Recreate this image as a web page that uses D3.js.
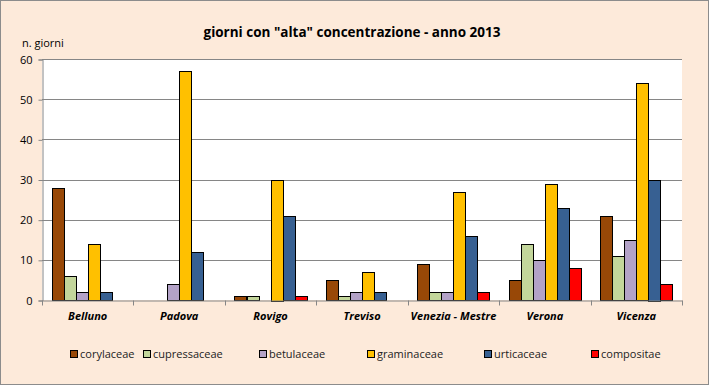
<!DOCTYPE html>
<html>
<head>
<meta charset="utf-8">
<script src="https://cdn.jsdelivr.net/npm/d3@7"></script>
<style>
  body { margin: 0; background: #fff; }
  svg { display: block; font-family: "Open Sans", "Liberation Sans", sans-serif; }
</style>
</head>
<body>
<script>
//Declare data
const cities = ["Belluno", "Padova", "Rovigo", "Treviso", "Venezia - Mestre", "Verona", "Vicenza"];
const families = ["corylaceae", "cupressaceae", "betulaceae", "graminaceae", "urticaceae", "compositae"];
const corylaceae   = [28, 0, 1, 5, 9, 5, 21];
const cupressaceae = [6, 0, 1, 1, 2, 14, 11];
const betulaceae   = [2, 4, 0, 2, 2, 10, 15];
const graminaceae  = [14, 57, 30, 7, 27, 29, 54];
const urticaceae   = [2, 12, 21, 2, 16, 23, 30];
const compositae   = [0, 0, 1, 0, 2, 8, 4];
const yTicks = [0, 10, 20, 30, 40, 50, 60];

const seriesValues = [corylaceae, cupressaceae, betulaceae, graminaceae, urticaceae, compositae];
const colors = ["#984807", "#C3D69B", "#B3A2C7", "#FFC000", "#376092", "#FF0000"];

//Sizes
const width = 709;
const height = 385;
const plot = { left: 42, right: 682, top: 59, bottom: 300 };

const svg = d3.select("body")
    .append("svg")
    .attr("width", width)
    .attr("height", height);

//Background
svg.append("rect")
    .attr("x", 0.5).attr("y", 0.5)
    .attr("width", width - 1).attr("height", height - 1)
    .attr("fill", "#FDEADA")
    .attr("stroke", "#8C8C8C");

svg.append("rect")
    .attr("x", plot.left).attr("y", plot.top)
    .attr("width", plot.right - plot.left).attr("height", plot.bottom - plot.top)
    .attr("fill", "#fff");

//Scales
const xScale = d3.scaleBand()
    .domain(cities)
    .range([plot.left, plot.right]);

const xInner = d3.scaleBand()
    .domain(families)
    .range([0, xScale.bandwidth()])
    .paddingOuter(0.8)
    .paddingInner(0);

const yScale = d3.scaleLinear()
    .domain([0, 60])
    .range([plot.bottom, plot.top]);

//Gridlines
svg.append("g")
    .selectAll("line")
    .data(yTicks.filter(d => d > 0))
    .join("line")
    .attr("x1", plot.left).attr("x2", plot.right)
    .attr("y1", d => Math.round(yScale(d)) + 0.5)
    .attr("y2", d => Math.round(yScale(d)) + 0.5)
    .attr("stroke", "#868686");

//Bars
const table = families.map((f, i) => cities.map((c, j) => ({ family: f, city: c, value: seriesValues[i][j], color: colors[i] })));

svg.append("g")
    .selectAll("g")
    .data(table)
    .join("g")
    .attr("fill", (d, i) => colors[i])
    .selectAll("rect")
    .data(d => d.filter(v => v.value > 0))
    .join("rect")
    .attr("x", d => Math.round(xScale(d.city) + xInner(d.family)) + 0.5)
    .attr("y", d => Math.round(yScale(d.value)) + 0.5)
    .attr("width", Math.round(xInner.bandwidth()))
    .attr("height", d => Math.round(plot.bottom - yScale(d.value)))
    .attr("stroke", "#000")
    .attr("stroke-width", 1);

//Axes
const leftAxis = d3.axisLeft(yScale)
    .tickValues(yTicks)
    .tickSize(4)
    .tickPadding(6);

const yAxisG = svg.append("g")
    .attr("transform", "translate(" + (plot.left + 0.5) + ",0.5)")
    .call(leftAxis);
yAxisG.select(".domain").attr("stroke", "#868686");
yAxisG.selectAll(".tick line").attr("stroke", "#868686");
yAxisG.selectAll("text")
    .attr("font-size", 11)
    .attr("fill", "#000")
    .attr("font-family", "Open Sans, sans-serif");

const bottomAxis = d3.axisBottom(xScale)
    .tickSize(0)
    .tickPadding(12);

const xAxisG = svg.append("g")
    .attr("transform", "translate(0," + (plot.bottom + 0.5) + ")")
    .call(bottomAxis);
xAxisG.select(".domain").attr("stroke", "#868686");
xAxisG.selectAll("text")
    .attr("font-size", 11)
    .attr("font-weight", "bold")
    .attr("font-style", "italic")
    .attr("fill", "#000")
    .attr("font-family", "Open Sans, sans-serif");

//Category boundary ticks
xAxisG.selectAll(".sep")
    .data(cities.concat(["end"]))
    .join("line")
    .attr("class", "sep")
    .attr("x1", (d, i) => Math.round(plot.left + i * xScale.bandwidth()) + 0.5)
    .attr("x2", (d, i) => Math.round(plot.left + i * xScale.bandwidth()) + 0.5)
    .attr("y1", 0).attr("y2", 5)
    .attr("stroke", "#868686");

//Title
svg.append("text")
    .attr("x", 352).attr("y", 37)
    .attr("text-anchor", "middle")
    .attr("font-size", 13.5)
    .attr("font-weight", "bold")
    .text('giorni con "alta" concentrazione - anno 2013');

svg.append("text")
    .attr("x", 22).attr("y", 47)
    .attr("font-size", 11)
    .text("n. giorni");

//Legend
const legendX = [70, 143, 259, 367, 484, 591];
const legend = svg.append("g")
    .selectAll("g")
    .data(families)
    .join("g")
    .attr("transform", (d, i) => "translate(" + legendX[i] + ",350)");

legend.append("rect")
    .attr("x", 0.5).attr("y", 0.5)
    .attr("width", 7).attr("height", 7)
    .attr("fill", (d, i) => colors[i])
    .attr("stroke", "#000");

legend.append("text")
    .attr("x", 10).attr("y", 8)
    .attr("font-size", 11)
    .attr("fill", "#222")
    .text(d => d);
</script>
</body>
</html>
